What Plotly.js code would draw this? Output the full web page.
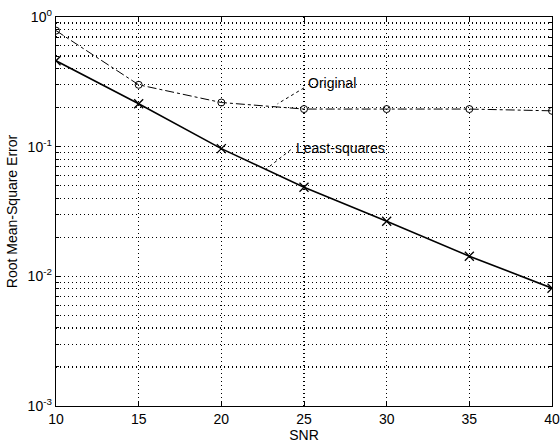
<!DOCTYPE html>
<html>
<head>
<meta charset="utf-8">
<script src="https://cdn.plot.ly/plotly-3.0.1.min.js"></script>
<style>html,body{margin:0;padding:0;background:#fff;}#chart{width:560px;height:444px;}</style>
</head>
<body>
<div id="chart"></div>
<script>
const snr = [10, 15, 20, 25, 30, 35, 40];
const original = [0.785, 0.30, 0.219, 0.195, 0.195, 0.195, 0.189];
const leastSquares = [0.46, 0.214, 0.0966, 0.0486, 0.0266, 0.0143, 0.0081];
const xTicks = [10, 15, 20, 25, 30, 35, 40];
const decades = [0.001, 0.01, 0.1, 1];
const decadeLabels = ['10<sup>-3</sup>', '10<sup>-2</sup>', '10<sup>-1</sup>', '10<sup>0</sup>'];
const mantissas = [2, 3, 4, 5, 6, 7, 8, 9];

// minor gridlines at mantissas 2..9 of each decade
const yMinorVals = [];
decades.slice(0, 3).forEach(d => mantissas.forEach(m => yMinorVals.push(+(m * d).toPrecision(3))));

const font = {family: 'Liberation Sans, Arial, sans-serif', size: 14, color: '#000'};
const gridDash = '1px,3px';

const traces = [
  {
    x: snr, y: original, type: 'scatter', mode: 'lines+markers', name: 'Original',
    line: {color: '#000', width: 1, dash: 'dashdot'},
    marker: {symbol: 'circle-open', size: 7, color: '#000', line: {width: 1}}
  },
  {
    x: snr, y: leastSquares, type: 'scatter', mode: 'lines+markers', name: 'Least-squares',
    line: {color: '#000', width: 1.6},
    marker: {symbol: 'x-thin-open', size: 9, color: '#000', line: {width: 1.3, color: '#000'}}
  }
];

const layout = {
  width: 560, height: 444,
  margin: {l: 56, r: 8, t: 17, b: 38},
  paper_bgcolor: '#fff', plot_bgcolor: '#fff',
  showlegend: false,
  font: font,
  xaxis: {
    range: [10, 40], tickvals: xTicks, ticktext: xTicks.map(String),
    showgrid: true, gridcolor: '#000', griddash: gridDash, gridwidth: 1.2,
    zeroline: false, showline: true, linecolor: '#000', linewidth: 1.3, mirror: 'ticks',
    ticks: 'inside', ticklen: 5, tickcolor: '#000',
    tickfont: font,
    title: {text: 'SNR', font: font, standoff: 0}
  },
  yaxis: {
    type: 'log', range: [-3, 0], tickvals: decades, ticktext: decadeLabels,
    showgrid: true, gridcolor: '#000', griddash: gridDash, gridwidth: 1.2,
    zeroline: false, showline: true, linecolor: '#000', linewidth: 1.3, mirror: 'ticks',
    ticks: 'inside', ticklen: 5, tickcolor: '#000',
    tickfont: font,
    minor: {tickvals: yMinorVals, showgrid: true, gridcolor: '#000', griddash: gridDash, gridwidth: 1.2,
            ticks: 'inside', ticklen: 3, tickcolor: '#000'},
    title: {text: 'Root Mean-Square Error', font: font, standoff: 6}
  },
  annotations: [
    {x: 26.67, y: -0.508, xref: 'x', yref: 'y', text: 'Original', showarrow: false, font: font},
    {x: 27.2, y: -1.008, xref: 'x', yref: 'y', text: 'Least-squares', showarrow: false, font: font}
  ],
  shapes: [
    {type: 'line', xref: 'x', yref: 'y', x0: 25.0, y0: 0.284, x1: 23.4, y1: 0.214,
     line: {color: '#000', width: 1, dash: 'dot'}},
    {type: 'line', xref: 'x', yref: 'y', x0: 24.2, y0: 0.0948, x1: 22.67, y1: 0.0665,
     line: {color: '#000', width: 1, dash: 'dot'}}
  ]
};

Plotly.newPlot('chart', traces, layout, {displayModeBar: false, staticPlot: true});
</script>
</body>
</html>
